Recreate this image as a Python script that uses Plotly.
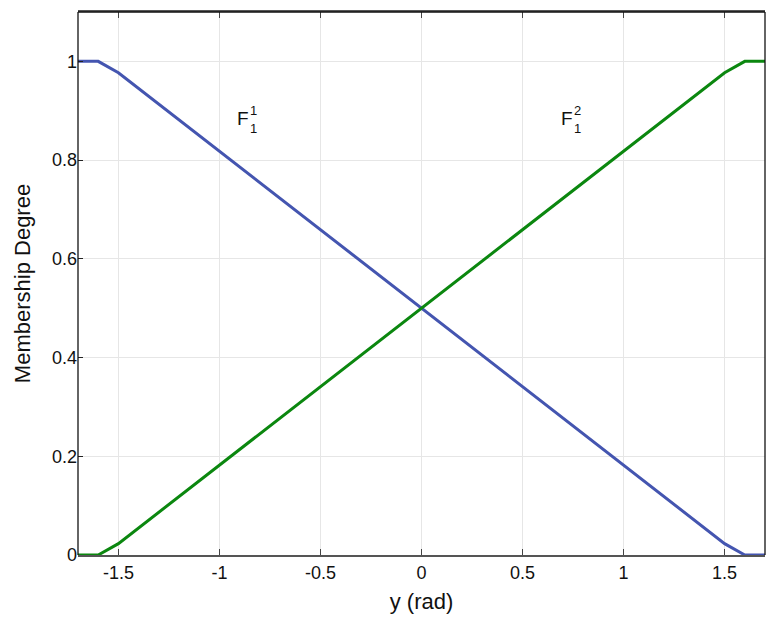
import plotly.graph_objects as go

# Data (vertices of piecewise-linear membership functions)
x_vals = [-1.7, -1.6, -1.5, 1.5, 1.6, 1.7]
f1_vals = [1.0, 1.0, 0.977, 0.023, 0.0, 0.0]
f2_vals = [0.0, 0.0, 0.023, 0.977, 1.0, 1.0]
x_ticks = [-1.5, -1, -0.5, 0, 0.5, 1, 1.5]
x_ticklabels = ["-1.5", "-1", "-0.5", "0", "0.5", "1", "1.5"]
y_ticks = [0, 0.2, 0.4, 0.6, 0.8, 1.0]
y_ticklabels = ["0", "0.2", "0.4", "0.6", "0.8", "1"]

BLUE = "#4455B0"
GREEN = "#0B870F"
FONT = "Liberation Sans, Arial, sans-serif"

fig = go.Figure()
fig.add_trace(go.Scatter(x=x_vals, y=f1_vals, mode="lines",
                         line=dict(color=BLUE, width=3), showlegend=False))
fig.add_trace(go.Scatter(x=x_vals, y=f2_vals, mode="lines",
                         line=dict(color=GREEN, width=3), showlegend=False))

# Labels F_1^1 and F_1^2
labels = [
    dict(x=-0.883, y=0.884, text="F", size=19),
    dict(x=-0.830, y=0.900, text="1", size=13),
    dict(x=-0.830, y=0.864, text="1", size=13),
    dict(x=0.721, y=0.884, text="F", size=19),
    dict(x=0.773, y=0.900, text="2", size=13),
    dict(x=0.771, y=0.864, text="1", size=13),
]
for a in labels:
    fig.add_annotation(x=a["x"], y=a["y"], text=a["text"], showarrow=False,
                       font=dict(family=FONT, size=a["size"], color="#111"),
                       xanchor="center", yanchor="middle")

# Black frame on top, left, right
for x0, y0, x1, y1 in [(0, 1, 1, 1), (0, 0, 0, 1), (1, 0, 1, 1)]:
    fig.add_shape(type="line", xref="paper", yref="paper", x0=x0, y0=y0, x1=x1, y1=y1,
                  line=dict(color="#111", width=1.3), layer="above")

fig.update_layout(
    width=759, height=615,
    margin=dict(l=70, r=2, t=4, b=68),
    plot_bgcolor="white", paper_bgcolor="white",
    font=dict(family=FONT, size=18, color="#111"),
    xaxis=dict(range=[-1.7, 1.7], tickvals=x_ticks, ticktext=x_ticklabels,
               showgrid=True, gridcolor="#E6E6E6", gridwidth=1,
               zeroline=False, showline=True, linecolor="#555", linewidth=2,
               ticks="inside", ticklen=6, tickcolor="#444", mirror="ticks",
               title=dict(text="y (rad)", font=dict(size=22), standoff=12),
               tickfont=dict(size=18)),
    yaxis=dict(range=[0, 1.1], tickvals=y_ticks, ticktext=y_ticklabels,
               showgrid=True, gridcolor="#E6E6E6", gridwidth=1,
               zeroline=False, showline=False,
               ticks="inside", ticklen=5, tickcolor="#222",
               title=dict(text="Membership Degree", font=dict(size=22), standoff=15),
               tickfont=dict(size=18)),
)

fig.write_html("out.html")
